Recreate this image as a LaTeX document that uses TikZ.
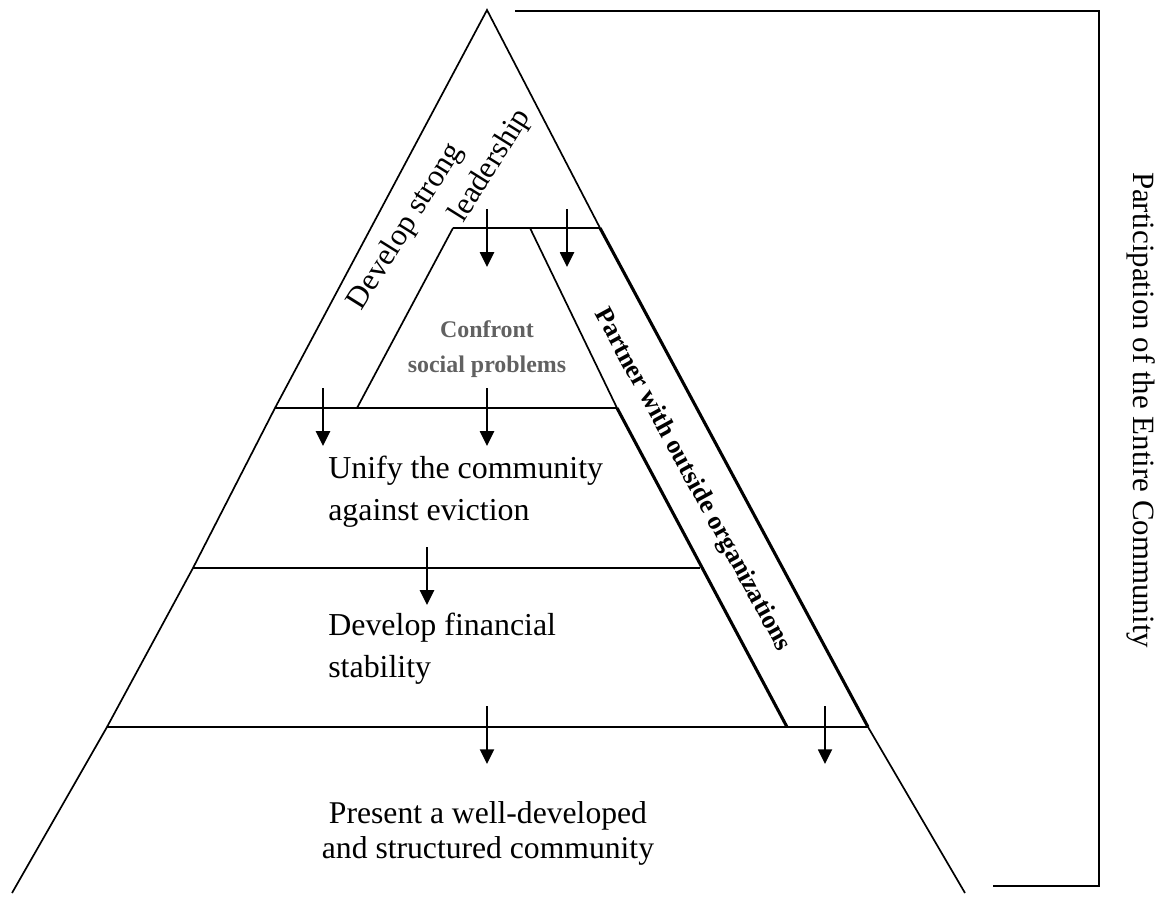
\documentclass[tikz,border=0pt]{standalone}
\usepackage{fontspec}
\setmainfont{Liberation Serif}
\usetikzlibrary{arrows.meta}

\tikzset{
  edge/.style={black,line width=1.2pt},
  heavy/.style={black,line width=2.2pt},
  down/.style={black,line width=1.2pt,-{Triangle[length=10.5pt,width=10pt]}},
  level/.style={align=left,anchor=west,inner sep=0pt},
}

\begin{document}
\begin{tikzpicture}[x=0.025cm,y=-0.025cm]
\useasboundingbox (0,0) rectangle (1162,903);

% outline of the pyramid
\coordinate (top) at (487,10);
\coordinate (L1) at (275,408);
\coordinate (L2) at (193,568);
\coordinate (L3) at (107,727);
\coordinate (L4) at (12,893);
\coordinate (R1) at (600,228);
\coordinate (R3) at (868,727);
\coordinate (R4) at (965,893);

% inner pieces
\coordinate (C1) at (453,228);
\coordinate (C2) at (357,408);
\coordinate (P1) at (530,228);
\coordinate (P2) at (617,408);
\coordinate (P3) at (700,568);
\coordinate (P4) at (787,727);

\draw[edge] (L4)--(L3)--(L2)--(L1)--(top)--(R1);
\draw[heavy] (R1)--(R3);
\draw[edge] (R3)--(R4);

\draw[edge] (C1)--(R1);
\draw[edge] (L1)--(P2);
\draw[edge] (L2)--(P3);
\draw[edge] (L3)--(R3);
\draw[edge] (C1)--(C2);
\draw[edge] (P1)--(P2);
\draw[heavy] (P2)--(P4);

% bracket
\coordinate (K1) at (515,11);
\coordinate (K2) at (1099,11);
\coordinate (K3) at (1099,886);
\coordinate (K4) at (993,886);
\draw[edge] (K1)--(K2)--(K3)--(K4);

% arrows
\foreach \n/\x/\y in {1/487/209,2/567/209,3/323/388,4/487/388,5/427/547,6/487/706,7/825/706}{
  \coordinate (t\n) at (\x,\y);
  \coordinate (h\n) at (\x,\y+58);
  \draw[down] (t\n)--(h\n);
}

% labels
\node[rotate=58,font=\fontsize{22}{26}\selectfont] (lead1) at (406,227) {Develop strong};
\node[rotate=58,font=\fontsize{22}{26}\selectfont] (lead2) at (491,166) {leadership};
\node[align=center,text=black!62,font=\bfseries\fontsize{17}{25}\selectfont] (soc) at (487,349) {Confront\\social problems};
\node[level,font=\fontsize{22.7}{30}\selectfont] (unify) at (328,492) {Unify the community\\against eviction};
\node[level,font=\fontsize{22.7}{30}\selectfont] (fin) at (328,649) {Develop financial\\stability};
\node[align=center,font=\fontsize{22.5}{25}\selectfont] (pres) at (488,833) {Present a well-developed\\and structured community};
\node[rotate=-61.4,font=\bfseries\fontsize{18.5}{22}\selectfont] (part) at (692,480) {Partner with outside organizations};
\node[rotate=-90,font=\fontsize{22}{26}\selectfont] (all) at (1141,410) {Participation of the Entire Community};

\end{tikzpicture}
\end{document}
